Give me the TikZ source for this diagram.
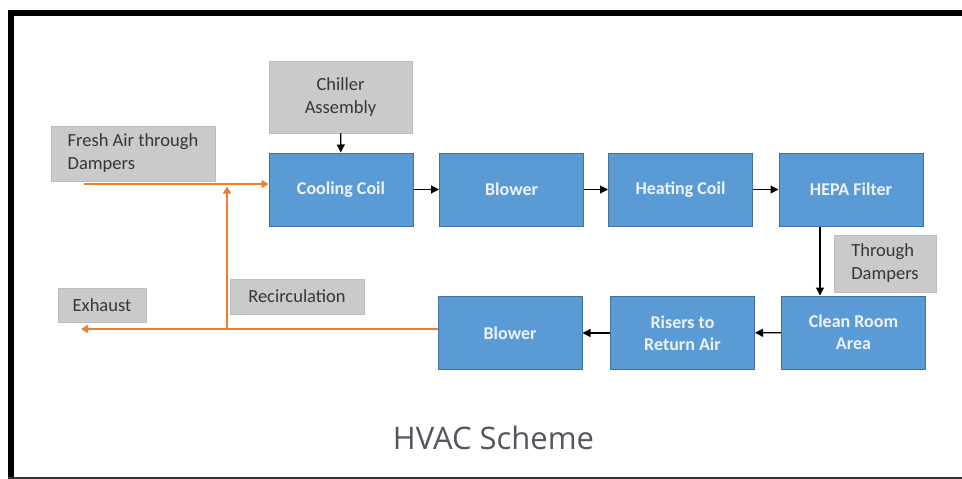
\documentclass[tikz,border=0pt]{standalone}
\usepackage{fontspec}
\setmainfont{Carlito}
\newfontfamily\titlefont{Open Sans}
\usetikzlibrary{arrows.meta}

\definecolor{boxblue}{HTML}{5B9BD5}
\definecolor{boxblueedge}{HTML}{41719C}
\definecolor{labelgray}{HTML}{CACACA}
\definecolor{labelgrayedge}{HTML}{BCBCBC}
\definecolor{labeltext}{HTML}{363636}
\definecolor{unittext}{HTML}{EEF3FA}
\definecolor{airorange}{HTML}{ED7D31}
\definecolor{titlegray}{HTML}{55555E}

\tikzset{
  unit/.style={draw=boxblueedge, fill=boxblue, line width=1pt,
    minimum width=144pt, minimum height=73pt, inner sep=0pt,
    text=unittext, align=center, font=\bfseries\fontsize{18}{22}\selectfont},
  tag/.style={draw=labelgrayedge, fill=labelgray, line width=0.8pt,
    inner sep=0pt, text=labeltext, font=\fontsize{18.5}{23}\selectfont},
  flow/.style={draw=black, line width=1.1pt,
    -{Triangle[length=8pt,width=8pt]}},
  airflow/.style={draw=airorange, line width=2.8pt,
    -{Triangle[length=7pt,width=8pt]}}
}

\begin{document}
\begin{tikzpicture}[x=1pt,y=-1pt]
\useasboundingbox (0,0) rectangle (962,479);
\fill[white] (0,0) rectangle (962,479);

% frame
\fill[black] (8,10) rectangle (962,16);
\fill[black] (8,10) rectangle (14,479);
\fill[black!80] (8,476.5) rectangle (962,479);

% supply chain
\node[tag, minimum width=143pt, minimum height=72pt, align=center]
  (chiller) at (340.5,97) {Chiller\\Assembly};
\node[unit] (cool)   at (341,189.5)   {Cooling Coil};
\node[unit] (blowA)  at (511.5,189.5) {Blower};
\node[unit] (heat)   at (680.5,189.5) {Heating Coil};
\node[unit] (hepa)   at (851,189.5)   {HEPA Filter};

% return chain
\node[unit] (clean)  at (853.5,332.5) {Clean Room\\Area};
\node[unit] (risers) at (682.5,333)   {Risers to\\Return Air};
\node[unit] (blowB)  at (510,333)     {Blower};

% labels
\node[tag, minimum width=164pt, minimum height=55pt, align=left]
  (fresh) at (133,153.5) {Fresh Air through\\Dampers};
\node[tag, minimum width=88pt, minimum height=34pt]
  (exhaust) at (102,305) {Exhaust};
\node[tag, minimum width=134pt, minimum height=35pt]
  (recirc) at (297,296.5) {Recirculation};
\node[tag, minimum width=102pt, minimum height=57pt, align=left]
  (through) at (885,263.5) {Through\\Dampers};

% black flow arrows
\draw[flow] (chiller) -- (cool);
\draw[flow] (cool) -- (blowA);
\draw[flow] (blowA) -- (heat);
\draw[flow] (heat) -- (hepa);
\coordinate (drop) at (820,0);
\draw[flow] (hepa.south -| drop) -- (clean.north -| drop);
\draw[flow] (clean) -- (risers);
\draw[flow] (risers) -- (blowB);

% air lines
\coordinate (freshstart) at (84,184);
\coordinate (exhaustend) at (81,329);
\coordinate (junction) at (227,329);
\coordinate (mixpoint) at (227,186.5);
\draw[airflow] (freshstart) -- (cool.west |- freshstart);
\draw[airflow] (blowB.west |- junction) -- (exhaustend);
\draw[airflow] (junction) -- (mixpoint);

% title
\node[anchor=base, text=titlegray, inner sep=0pt,
  font=\titlefont\fontsize{31}{36}\selectfont] (title) at (493.5,449) {HVAC Scheme};
\end{tikzpicture}
\end{document}
